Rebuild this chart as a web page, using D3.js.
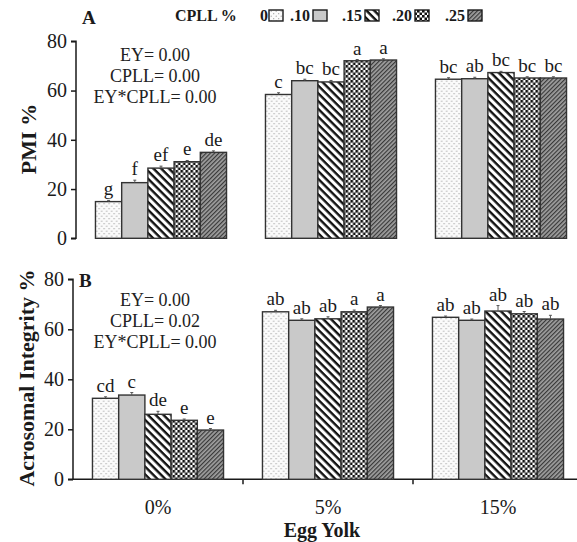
<!DOCTYPE html>
<html>
<head>
<meta charset="utf-8">
<script src="https://cdn.jsdelivr.net/npm/d3@7"></script>
<style>
  body { margin: 0; background: #fff; }
  svg { display: block; font-family: "Liberation Serif", "Times New Roman", serif; }
</style>
</head>
<body>
<div id="chart"></div>
<script>
// Egg yolk groups and CPLL levels
const groups = ["0%", "5%", "15%"];
const levels = ["0", ".10", ".15", ".20", ".25"];
const yTicks = [0, 20, 40, 60, 80];

// Panel A: PMI %
const pmiValues = [
    [14.9, 22.6, 28.5, 31.1, 34.9],
    [58.4, 64.0, 63.5, 72.1, 72.4],
    [64.6, 64.8, 67.3, 65.1, 65.1]
];
const pmiErrors = [
    [0.5, 1.0, 0.8, 0.5, 0.6],
    [0.7, 0.6, 0.6, 0.5, 0.5],
    [0.6, 0.6, 0.5, 0.5, 0.5]
];
const pmiLetters = [
    ["g", "f", "ef", "e", "de"],
    ["c", "bc", "bc", "a", "a"],
    ["bc", "ab", "bc", "bc", "bc"]
];
const pmiStats = ["EY= 0.00", "CPLL= 0.00", "EY*CPLL= 0.00"];

// Panel B: Acrosomal integrity %
const acroValues = [
    [32.4, 33.7, 26.0, 23.6, 19.7],
    [67.0, 63.6, 64.2, 67.0, 68.9],
    [64.8, 63.6, 67.3, 66.2, 64.1]
];
const acroErrors = [
    [0.6, 1.0, 1.2, 0.5, 0.6],
    [0.6, 0.6, 0.8, 0.7, 0.6],
    [0.5, 0.5, 2.2, 0.9, 1.5]
];
const acroLetters = [
    ["cd", "c", "de", "e", "e"],
    ["ab", "ab", "ab", "a", "a"],
    ["ab", "ab", "ab", "ab", "ab"]
];
const acroStats = ["EY= 0.00", "CPLL= 0.02", "EY*CPLL= 0.00"];

const width = 577, height = 542;
const ink = "#1a1a1a";

const svg = d3.select("#chart").append("svg")
    .attr("width", width)
    .attr("height", height);

// fill patterns for the five CPLL levels
const defs = svg.append("defs");

const pDots = defs.append("pattern").attr("id", "p0")
    .attr("patternUnits", "userSpaceOnUse").attr("width", 5).attr("height", 5);
pDots.append("rect").attr("width", 5).attr("height", 5).attr("fill", "#fbfbfb");
pDots.append("circle").attr("cx", 1.2).attr("cy", 1.2).attr("r", 0.6).attr("fill", "#999");
pDots.append("circle").attr("cx", 3.7).attr("cy", 3.7).attr("r", 0.6).attr("fill", "#999");

const pGray = defs.append("pattern").attr("id", "p1")
    .attr("patternUnits", "userSpaceOnUse").attr("width", 4).attr("height", 4);
pGray.append("rect").attr("width", 4).attr("height", 4).attr("fill", "#c9c9c9");

// "\" stripes
const pStripe = defs.append("pattern").attr("id", "p2")
    .attr("patternUnits", "userSpaceOnUse").attr("width", 5.5).attr("height", 5.5)
    .attr("patternTransform", "rotate(45)");
pStripe.append("rect").attr("width", 5.5).attr("height", 5.5).attr("fill", "#fff");
pStripe.append("rect").attr("width", 5.5).attr("height", 2.4).attr("fill", "#111");

const pCheck = defs.append("pattern").attr("id", "p3")
    .attr("patternUnits", "userSpaceOnUse").attr("width", 5).attr("height", 5);
pCheck.append("rect").attr("width", 5).attr("height", 5).attr("fill", "#fff");
pCheck.append("rect").attr("x", 0).attr("y", 0).attr("width", 2.6).attr("height", 2.6).attr("fill", "#111");
pCheck.append("rect").attr("x", 2.5).attr("y", 2.5).attr("width", 2.6).attr("height", 2.6).attr("fill", "#111");

// fine dark "/" hatch
const pHatch = defs.append("pattern").attr("id", "p4")
    .attr("patternUnits", "userSpaceOnUse").attr("width", 3).attr("height", 3)
    .attr("patternTransform", "rotate(-45)");
pHatch.append("rect").attr("width", 3).attr("height", 3).attr("fill", "#a0a0a0");
pHatch.append("rect").attr("width", 3).attr("height", 1.2).attr("fill", "#383838");

const fillFor = d3.scaleOrdinal().domain(levels).range(levels.map((_, i) => `url(#p${i})`));

function drawPanel(opts) {
    const { axisX, y0, y80, values, errors, letters, stats, title, label, xAxis, labelY } = opts;

    const y = d3.scaleLinear().domain([0, 80]).range([y0, y80]);
    const x = d3.scaleBand().domain(groups).range([axisX, axisX + 510])
        .paddingInner(0.229).paddingOuter(0.1145);
    const xs = d3.scaleBand().domain(levels).range([0, x.bandwidth()]);

    const g = svg.append("g");

    // y axis
    const yAxis = g.append("g")
        .attr("transform", `translate(${axisX},0)`)
        .call(d3.axisLeft(y).tickValues(yTicks).tickSize(5).tickPadding(4));
    yAxis.select(".domain").attr("stroke", ink).attr("stroke-width", 1.5).attr("d", `M-5,${y0}H0V${y80}H-5`);
    yAxis.selectAll(".tick line").attr("stroke", ink).attr("stroke-width", 1.5);
    yAxis.selectAll(".tick text").attr("fill", ink)
        .style("font-size", "20px").style("font-family", "Liberation Serif");

    if (xAxis) {
        g.append("line")
            .attr("x1", axisX).attr("x2", width)
            .attr("y1", y0).attr("y2", y0)
            .attr("stroke", ink).attr("stroke-width", 1.5);
        const bounds = groups.slice(1).map(d => x(d) - x.step() * x.paddingInner() / 2);
        g.selectAll(".xtick").data(bounds).join("line")
            .attr("x1", d => d).attr("x2", d => d)
            .attr("y1", y0).attr("y2", y0 + 5)
            .attr("stroke", ink).attr("stroke-width", 1.5);
        g.selectAll(".xlab").data(groups).join("text")
            .attr("x", d => x(d) + x.bandwidth() / 2)
            .attr("y", y0 + 35)
            .attr("text-anchor", "middle")
            .attr("fill", ink)
            .style("font-size", "20px")
            .text(d => d);
    }

    // bars
    groups.forEach((grp, gi) => {
        const rows = levels.map((lv, li) => ({
            lv, v: values[gi][li], e: errors[gi][li], t: letters[gi][li]
        }));
        const bg = g.append("g").attr("transform", `translate(${x(grp)},0)`);

        bg.selectAll("rect").data(rows).join("rect")
            .attr("x", d => xs(d.lv))
            .attr("y", d => y(d.v))
            .attr("width", xs.bandwidth())
            .attr("height", d => y(0) - y(d.v))
            .attr("fill", d => fillFor(d.lv))
            .attr("stroke", "#333")
            .attr("stroke-width", 1.4);

        bg.selectAll(".err").data(rows).join("path")
            .attr("d", d => {
                const cx = xs(d.lv) + xs.bandwidth() / 2;
                return `M${cx},${y(d.v)}V${y(d.v + d.e)}M${cx - 1.5},${y(d.v + d.e)}H${cx + 1.5}`;
            })
            .attr("stroke", "#555").attr("stroke-width", 1).attr("fill", "none");

        bg.selectAll(".sig").data(rows).join("text")
            .attr("x", d => xs(d.lv) + xs.bandwidth() / 2)
            .attr("y", d => y(d.v + d.e) - 5)
            .attr("text-anchor", "middle")
            .attr("fill", ink)
            .style("font-size", "19px")
            .text(d => d.t);
    });

    // p-values
    g.selectAll(".stat").data(stats).join("text")
        .attr("x", 155)
        .attr("y", (d, i) => opts.statY + i * 21)
        .attr("text-anchor", "middle")
        .attr("fill", "#222")
        .style("font-size", "18px")
        .text(d => d);

    // panel letter
    g.append("text")
        .attr("x", opts.titleX).attr("y", opts.titleY)
        .attr("fill", ink)
        .style("font-size", "19px").style("font-weight", "bold")
        .text(title);

    // y axis title
    g.append("text")
        .attr("transform", `translate(${opts.labelX},${labelY}) rotate(-90)`)
        .attr("text-anchor", "middle")
        .attr("fill", ink)
        .style("font-size", "22px").style("font-weight", "bold")
        .text(label);
}

drawPanel({
    axisX: 76, y0: 238.3, y80: 41.3,
    values: pmiValues, errors: pmiErrors, letters: pmiLetters, stats: pmiStats,
    statY: 61, title: "A", titleX: 82, titleY: 24,
    label: "PMI %", labelX: 36, labelY: 139, xAxis: false
});

drawPanel({
    axisX: 73, y0: 479.3, y80: 279.3,
    values: acroValues, errors: acroErrors, letters: acroLetters, stats: acroStats,
    statY: 306, title: "B", titleX: 79, titleY: 287,
    label: "Acrosomal Integrity %", labelX: 34, labelY: 378, xAxis: true
});

// x axis title
svg.append("text")
    .attr("x", 322).attr("y", 537)
    .attr("text-anchor", "middle")
    .attr("fill", ink)
    .style("font-size", "20px").style("font-weight", "bold")
    .text("Egg Yolk");

// legend
const legend = svg.append("g").style("font-size", "16px").style("font-weight", "bold");
legend.append("text").attr("x", 175).attr("y", 21).attr("fill", ink).text("CPLL %");
const legendX = [260, 290, 342, 392, 445];
const legendItems = legend.selectAll(".item").data(levels).join("g")
    .attr("transform", (d, i) => `translate(${legendX[i]},0)`);
legendItems.append("text").attr("y", 21).attr("fill", ink).text(d => d);
legendItems.append("rect")
    .attr("x", (d, i) => i === 0 ? 9 : 23)
    .attr("y", 10).attr("width", 14).attr("height", 11)
    .attr("fill", d => fillFor(d))
    .attr("stroke", ink).attr("stroke-width", 1.4);
</script>
</body>
</html>
